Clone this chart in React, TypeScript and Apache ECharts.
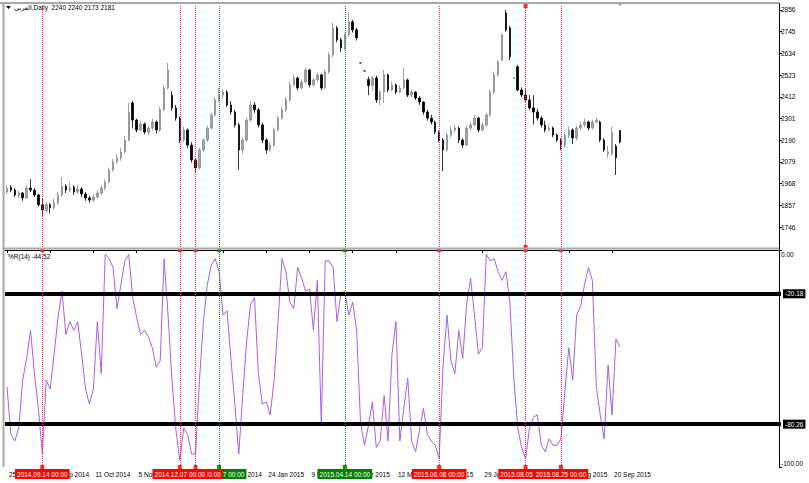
import React, { useEffect, useRef } from "react";
import * as echarts from "echarts";

const symbolName = "العربي";
const timeframe = "Daily";

// x-axis tick labels (one every labelEvery bars)
const tickLabels = [
  "25 Aug 2014", "15 Sep 2014", "11 Oct 2014", "5 Nov 2014", "4 Dec 2014",
  "18 Dec 2014", "24 Jan 2015", "9 Mar 2015", "15 Apr 2015", "12 May 2015",
  "7 Jun 2015", "29 Jun 2015", "4 Aug 2015", "26 Aug 2015", "20 Sep 2015",
];
const labelEvery = 11;
const slotCount = 197;

const opens = [
  1925, 1950, 1935, 1905, 1920, 1895, 1945, 1935, 1910, 1860,
  1830, 1860, 1845, 1870, 1910, 1955, 1935, 1950, 1925, 1940,
  1915, 1895, 1884, 1900, 1920, 1945, 1976, 2038, 2079, 2099,
  2130, 2191, 2380, 2293, 2242, 2273, 2232, 2252, 2283, 2242,
  2345, 2457, 2420, 2355, 2303, 2191, 2242, 2165, 2089, 2048,
  2140, 2191, 2252, 2319, 2396, 2421, 2436, 2370, 2334, 2268,
  2140, 2191, 2293, 2370, 2345, 2268, 2191, 2140, 2165, 2242,
  2303, 2345, 2396, 2473, 2508, 2457, 2488, 2549, 2473, 2498,
  2524, 2457, 2539, 2626, 2764, 2703, 2662, 2728, 2795, 2754,
  2585, 2544, 2500, 2470, 2508, 2396, 2436, 2524, 2447, 2473,
  2436, 2457, 2498, 2421, 2436, 2406, 2385, 2334, 2303, 2283,
  2232, 2191, 2140, 2216, 2242, 2252, 2191, 2165, 2252, 2268,
  2303, 2242, 2268, 2319, 2436, 2524, 2600, 2840, 2764, 2508,
  2565, 2447, 2421, 2396, 2355, 2334, 2303, 2268, 2242, 2252,
  2216, 2191, 2165, 2216, 2242, 2201, 2252, 2268, 2283, 2252,
  2283, 2283, 2191, 2120, 2120, 2160, 2240,
];
const highs = [
  1960, 1960, 1945, 1930, 1925, 1960, 1990, 1945, 1915, 1890,
  1875, 1870, 1890, 1925, 2002, 1965, 1975, 1960, 1960, 1950,
  1925, 1905, 1915, 1935, 1960, 1990, 2050, 2095, 2120, 2150,
  2210, 2380, 2390, 2300, 2290, 2280, 2265, 2300, 2290, 2360,
  2470, 2585, 2440, 2370, 2310, 2260, 2250, 2180, 2100, 2150,
  2200, 2265, 2330, 2410, 2457, 2450, 2445, 2390, 2345, 2280,
  2205, 2305, 2390, 2385, 2355, 2280, 2200, 2180, 2255, 2315,
  2360, 2410, 2490, 2525, 2515, 2500, 2560, 2555, 2510, 2535,
  2530, 2550, 2640, 2790, 2775, 2715, 2740, 2846, 2805, 2765,
  2585, 2544, 2515, 2520, 2520, 2445, 2550, 2530, 2490, 2480,
  2470, 2560, 2505, 2450, 2440, 2415, 2390, 2345, 2320, 2290,
  2240, 2200, 2230, 2260, 2270, 2260, 2200, 2265, 2285, 2320,
  2310, 2280, 2330, 2450, 2540, 2600, 2735, 2856, 2775, 2508,
  2575, 2460, 2450, 2420, 2420, 2350, 2315, 2290, 2270, 2260,
  2225, 2200, 2230, 2260, 2250, 2265, 2285, 2300, 2290, 2295,
  2305, 2290, 2200, 2160, 2258, 2170, 2240,
];
const lows = [
  1915, 1925, 1900, 1895, 1880, 1890, 1925, 1900, 1850, 1797,
  1820, 1815, 1835, 1860, 1900, 1920, 1925, 1910, 1915, 1900,
  1880, 1870, 1875, 1890, 1910, 1935, 1970, 2030, 2070, 2085,
  2120, 2185, 2250, 2230, 2235, 2220, 2215, 2240, 2225, 2230,
  2340, 2450, 2340, 2290, 2175, 2180, 2150, 2075, 2022, 2040,
  2130, 2180, 2245, 2310, 2385, 2400, 2360, 2320, 2255, 2038,
  2120, 2180, 2285, 2330, 2255, 2175, 2120, 2130, 2155, 2235,
  2295, 2335, 2385, 2465, 2445, 2450, 2480, 2460, 2465, 2490,
  2445, 2450, 2530, 2615, 2690, 2640, 2650, 2720, 2740, 2700,
  2585, 2544, 2420, 2440, 2380, 2370, 2380, 2435, 2440, 2425,
  2430, 2450, 2410, 2410, 2395, 2370, 2320, 2290, 2270, 2220,
  2180, 2032, 2130, 2205, 2230, 2175, 2150, 2160, 2240, 2260,
  2230, 2235, 2260, 2310, 2425, 2515, 2595, 2745, 2600, 2508,
  2440, 2410, 2385, 2345, 2270, 2290, 2255, 2230, 2235, 2205,
  2180, 2140, 2150, 2200, 2170, 2190, 2240, 2255, 2240, 2245,
  2275, 2180, 2130, 2100, 2110, 2012, 2173,
];
const closes = [
  1945, 1935, 1910, 1920, 1895, 1945, 1935, 1910, 1860, 1833,
  1860, 1845, 1870, 1910, 1955, 1935, 1945, 1925, 1940, 1915,
  1895, 1884, 1900, 1920, 1945, 1976, 2038, 2079, 2099, 2130,
  2191, 2334, 2293, 2242, 2273, 2232, 2252, 2283, 2242, 2345,
  2457, 2549, 2355, 2303, 2191, 2242, 2165, 2089, 2048, 2140,
  2191, 2252, 2319, 2396, 2421, 2436, 2370, 2334, 2268, 2140,
  2191, 2293, 2370, 2345, 2268, 2191, 2140, 2165, 2242, 2303,
  2345, 2396, 2473, 2508, 2457, 2488, 2549, 2473, 2498, 2524,
  2457, 2539, 2626, 2764, 2703, 2662, 2728, 2795, 2754, 2713,
  2585, 2544, 2470, 2508, 2396, 2436, 2524, 2447, 2473, 2436,
  2457, 2498, 2421, 2436, 2406, 2385, 2334, 2303, 2283, 2232,
  2191, 2140, 2216, 2242, 2252, 2191, 2165, 2252, 2268, 2303,
  2242, 2268, 2319, 2436, 2524, 2590, 2728, 2754, 2616, 2508,
  2447, 2421, 2396, 2355, 2334, 2303, 2268, 2242, 2252, 2216,
  2191, 2165, 2216, 2242, 2201, 2252, 2268, 2283, 2252, 2283,
  2293, 2191, 2140, 2130, 2230, 2100, 2181,
];

// Williams %R(14)
const wpr = [
  -63, -85, -88, -82, -60, -50, -37, -57, -73, -94,
  -60, -64, -48, -31, -19, -39, -33, -37, -33, -48,
  -64, -71, -64, -33, -57, -2, -4, -8, -27, -16,
  -5, -2, -22, -31, -39, -37, -40, -45, -54, -51,
  -4, -30, -60, -83, -97, -82, -85, -94, -94, -60,
  -33, -16, -7, -4, -10, -30, -28, -50, -71, -94,
  -67, -42, -25, -22, -57, -71, -70, -76, -60, -33,
  -4, -10, -24, -27, -8, -13, -19, -18, -37, -14,
  -80, -5, -5, -8, -33, -20, -19, -30, -24, -37,
  -80, -90, -81, -70, -91, -88, -67, -88, -48, -33,
  -88, -73, -59, -88, -93, -83, -73, -85, -88, -90,
  -96, -53, -30, -51, -57, -37, -50, -25, -13, -30,
  -48, -45, -2, -5, -4, -10, -14, -10, -24, -59,
  -82, -91, -96, -82, -77, -76, -90, -93, -87, -90,
  -90, -87, -65, -45, -60, -30, -26, -16, -8, -14,
  -63, -76, -87, -53, -76, -41, -44.52,
];

const priceTicks = [1746, 1857, 1968, 2079, 2190, 2301, 2412, 2523, 2634, 2745, 2856];
const priceMin = 1644;
const priceMax = 2876;
const wprTicks = [0, -100];
const wprLevels = [-20.18, -80.26];

// vertical event lines (bar index, label, kind) - listed in drawing order
const eventBars = [9, 54, 48, 44, 86, 110, 132, 141];
const eventDates = [
  "2014.09.14 00:00", "2014.12.17 00:00", "2014.12.10 00:00", "2014.12.07 00:00",
  "2015.04.14 00:00", "2015.06.08 00:00", "2015.08.05 00:00", "2015.08.25 00:00",
];
const eventKinds = ["red", "green", "red", "red", "green", "red", "red", "red"];
const markedMainBar = 132;

const FONT = "'Liberation Sans', 'DejaVu Sans', 'Noto Sans', sans-serif";
const FS = 6.5;

export default function App() {
  const ref = useRef<HTMLDivElement>(null);

  useEffect(() => {
    document.body.style.margin = "0";
    if (!ref.current) return;
    const chart = echarts.init(ref.current, undefined, { renderer: "svg" });

    const cats = Array.from({ length: slotCount }, (_, i) => String(i));
    const isLabel = (i: number) => i % labelEvery === 0 && i / labelEvery < tickLabels.length;
    const candleData = opens.map((o, i) => [o, closes[i], lows[i], highs[i]]);
    const last = opens.length - 1;

    const lineColor = (k: string) => (k === "green" ? "#009a00" : "#ff2a2a");
    const boxColor = (k: string) => (k === "green" ? "#008000" : "#ff0000");

    const mainEventLines: any[] = eventBars.map((b, i) => {
      const ls = { color: lineColor(eventKinds[i]), type: "dotted", width: 1 };
      if (b === markedMainBar) {
        return [
          { xAxis: b, yAxis: priceMin, symbol: "rect", lineStyle: ls },
          { xAxis: b, yAxis: priceMax, symbol: "rect" },
        ];
      }
      return { xAxis: b, lineStyle: ls };
    });

    const subEventLines: any[] = eventBars.map((b, i) => ({
      xAxis: b,
      symbol: "rect",
      lineStyle: { color: lineColor(eventKinds[i]), type: "dotted", width: 1 },
      label: {
        show: true,
        position: "start",
        formatter: eventDates[i],
        backgroundColor: boxColor(eventKinds[i]),
        color: "#fff",
        padding: [2, 2, 1, 2],
        fontSize: FS,
        fontFamily: FONT,
        distance: 2,
      },
    }));

    const levelLines: any[] = wprLevels.map((v) => ({
      yAxis: v,
      symbol: "none",
      lineStyle: { color: "#000", type: "solid", width: 4 },
      label: {
        show: true,
        position: "end",
        formatter: v.toFixed(2),
        backgroundColor: "#000",
        color: "#fff",
        padding: [1, 2, 1, 2],
        fontSize: FS,
        fontFamily: FONT,
        distance: 4,
      },
    }));

    const option: any = {
      animation: false,
      backgroundColor: "#ffffff",
      textStyle: { fontFamily: FONT },
      grid: [
        { left: 5, right: 30, top: 6, height: 241 },
        { left: 5, right: 30, top: 250, height: 217 },
      ],
      xAxis: [
        {
          type: "category",
          gridIndex: 0,
          data: cats,
          axisLine: { show: false },
          axisTick: { show: false },
          axisLabel: { show: false },
          splitLine: { show: false },
        },
        {
          type: "category",
          gridIndex: 1,
          data: cats,
          axisLine: { show: true, lineStyle: { color: "#000", width: 1 } },
          axisTick: {
            show: true,
            interval: (i: number) => isLabel(i),
            alignWithLabel: true,
            length: 3,
            lineStyle: { color: "#000" },
          },
          axisLabel: {
            interval: (i: number) => isLabel(i),
            formatter: (_v: string, i: number) => tickLabels[i / labelEvery],
            align: "left",
            margin: 4,
            fontSize: FS,
            color: "#000",
            fontFamily: FONT,
            padding: [0, 0, 0, 2],
          },
          splitLine: { show: false },
        },
      ],
      yAxis: [
        {
          type: "value",
          gridIndex: 0,
          position: "right",
          min: priceMin,
          max: priceMax,
          splitLine: { show: false },
          axisLine: { show: true, lineStyle: { color: "#000" } },
          axisTick: { show: true, customValues: priceTicks, length: 3, lineStyle: { color: "#000" } },
          axisLabel: {
            customValues: priceTicks,
            formatter: (v: number) => String(v),
            fontSize: FS,
            color: "#000",
            margin: 2,
            fontFamily: FONT,
          },
        },
        {
          type: "value",
          gridIndex: 1,
          position: "right",
          min: -100,
          max: 0,
          splitLine: { show: false },
          axisLine: { show: true, lineStyle: { color: "#000" } },
          axisTick: { show: true, customValues: wprTicks, length: 3, lineStyle: { color: "#000" } },
          axisLabel: {
            customValues: wprTicks,
            margin: 2,
            color: "#000",
            fontFamily: FONT,
            fontSize: FS,
            formatter: (v: number) => (v >= 0 ? "{t|" + v.toFixed(2) + "}" : "{b|" + v.toFixed(2) + "}"),
            rich: {
              t: { fontSize: FS, fontFamily: FONT, color: "#000", padding: [8, 0, 0, 0] },
              b: { fontSize: FS, fontFamily: FONT, color: "#000", padding: [0, 0, 8, 0] },
            },
          },
        },
      ],
      series: [
        {
          type: "candlestick",
          name: symbolName,
          xAxisIndex: 0,
          yAxisIndex: 0,
          data: candleData,
          barWidth: 2,
          itemStyle: {
            color: "#a6a6a6",
            color0: "#000000",
            borderColor: "#8a8a8a",
            borderColor0: "#000000",
            borderWidth: 0.8,
          },
          markLine: {
            silent: true,
            animation: false,
            symbol: ["none", "none"],
            symbolSize: 4,
            label: { show: false },
            data: mainEventLines,
          },
        },
        {
          type: "line",
          name: "%R(14)",
          xAxisIndex: 1,
          yAxisIndex: 1,
          data: wpr,
          symbol: "none",
          clip: false,
          lineStyle: { color: "#ad5de8", width: 1 },
          markLine: {
            silent: true,
            animation: false,
            symbol: ["rect", "rect"],
            symbolSize: 4,
            data: [...levelLines, ...subEventLines],
          },
        },
      ],
      graphic: [
        { type: "line", shape: { x1: 0, y1: 3, x2: 779, y2: 3 }, style: { stroke: "#a8a8a8", lineWidth: 2 }, z: 10 },
        { type: "line", shape: { x1: 3.5, y1: 3, x2: 3.5, y2: 467 }, style: { stroke: "#a8a8a8", lineWidth: 2 }, z: 10 },
        { type: "line", shape: { x1: 3, y1: 248.5, x2: 779, y2: 248.5 }, style: { stroke: "#a8a8a8", lineWidth: 2 }, z: 10 },
        { type: "line", shape: { x1: 779.5, y1: 3, x2: 779.5, y2: 467 }, style: { stroke: "#000", lineWidth: 1 }, z: 10 },
        { type: "polygon", shape: { points: [[617, 3], [623, 3], [620, 6]] }, style: { fill: "#a0a0a0" }, z: 11 },
        { type: "polygon", shape: { points: [[6, 6], [11, 6], [8.5, 9]] }, style: { fill: "#000" }, z: 11 },
        {
          type: "text",
          left: 14,
          top: 4,
          z: 11,
          style: {
            text: `${symbolName},${timeframe}  ${opens[last]} ${highs[last]} ${lows[last]} ${closes[last]}`,
            fill: "#000",
            fontSize: FS,
            fontFamily: FONT,
          },
        },
        {
          type: "text",
          left: 8,
          top: 253,
          z: 11,
          style: {
            text: `%R(14) ${wpr[wpr.length - 1].toFixed(2)}`,
            fill: "#000",
            fontSize: FS,
            fontFamily: FONT,
          },
        },
      ],
    };

    chart.setOption(option);
    return () => chart.dispose();
  }, []);

  return <div ref={ref} style={{ width: 809, height: 483, background: "#fff" }} />;
}
